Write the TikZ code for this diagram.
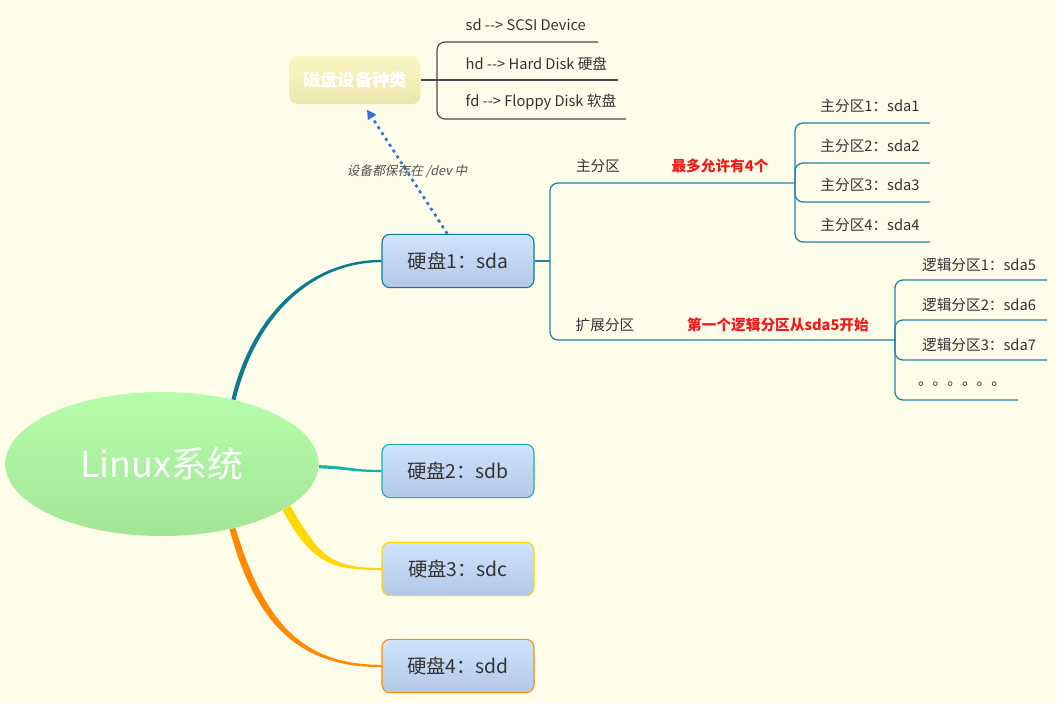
\documentclass[tikz,border=0pt]{standalone}
\usepackage{fontspec}
\setmainfont{Noto Sans CJK SC}
\newfontfamily\slantfont[FakeSlant=0.2]{Noto Sans CJK SC}
\usetikzlibrary{arrows.meta, positioning, shapes.geometric}
\definecolor{paper}{HTML}{FDFDE9}
\definecolor{ink}{HTML}{333333}
\definecolor{boxtop}{HTML}{CFE3FC}
\definecolor{boxbot}{HTML}{B3C8E6}
\definecolor{rootop}{HTML}{B6FDAB}
\definecolor{rootbot}{HTML}{A2E596}
\definecolor{kindtop}{HTML}{FBF6C2}
\definecolor{kindbot}{HTML}{EDE5AE}
\definecolor{sdaline}{HTML}{0E7A92}
\definecolor{sdbline}{HTML}{10B3A6}
\definecolor{sdcline}{HTML}{FFD800}
\definecolor{sddline}{HTML}{FF8A00}
\definecolor{branch}{HTML}{1E86A4}
\definecolor{grayline}{HTML}{4A4A4A}
\definecolor{hintred}{HTML}{F21B1B}
\definecolor{devblue}{HTML}{2F6FE0}

\begin{document}
\begin{tikzpicture}[x=0.75pt, y=-0.75pt,
    every node/.style={text=ink},
    root/.style={ellipse, top color=rootop, bottom color=rootbot, minimum width=235pt, minimum height=108pt, text=white, font=\fontsize{27}{30}\selectfont},
    disk/.style={draw, line width=0.8pt, rounded corners=6pt, top color=boxtop, bottom color=boxbot, minimum width=114pt, minimum height=40pt, font=\fontsize{14.5}{17}\selectfont},
    kindbox/.style={rounded corners=6pt, top color=kindtop, bottom color=kindbot, minimum width=98pt, minimum height=36pt, text=white, font=\fontsize{13}{15}\selectfont\bfseries},
    leaf/.style={font=\fontsize{11}{13}\selectfont},
    hint/.style={font=\fontsize{11}{13}\selectfont\bfseries, text=hintred},
    tree/.style={draw=branch, line width=1pt, rounded corners=6pt},
    kindtree/.style={draw=grayline, line width=0.9pt, rounded corners=6pt},
    devarrow/.style={devblue, line width=2pt, dash pattern=on 2.2pt off 3pt, -{Triangle[length=7pt,width=7pt]}},
    note/.style={font=\fontsize{9.5}{11}\selectfont\slantfont, text=ink!85}
]
    \fill[paper] (0,0) rectangle (1057,703);
    \useasboundingbox (0,0) rectangle (1057,703);

    % main nodes
    \node[root] (linux) at (162,464) {Linux系统};
    \node[disk, draw=sdaline] (sda) at (458,261) {硬盘1：sda};
    \node[disk, draw=sdbline] (sdb) at (458,471) {硬盘2：sdb};
    \node[disk, draw=sdcline] (sdc) at (458,569) {硬盘3：sdc};
    \node[disk, draw=sddline] (sdd) at (458,666) {硬盘4：sdd};
    \node[kindbox] (kind) at (355,80) {磁盘设备种类};

    % tapered branches from the root
    \fill[sdaline] (linux.41) .. controls +(22,-90) and +(-65,0) .. ([yshift=-0.9pt]sda.west)
        -- ([yshift=0.9pt]sda.west) .. controls +(-67,0) and +(22,-91) .. (linux.43.5) -- cycle;
    \fill[sdbline] ([yshift=1.2pt]linux.-1) .. controls +(30,1) and +(-30,0) .. ([yshift=0.8pt]sdb.west)
        -- ([yshift=-0.8pt]sdb.west) .. controls +(-30,0) and +(30,1) .. ([yshift=-1.2pt]linux.-1) -- cycle;
    \fill[sdcline] (linux.-18.7) .. controls +(30,52) and +(-50,0) .. ([yshift=0.8pt]sdc.west)
        -- ([yshift=-0.8pt]sdc.west) .. controls +(-51,0) and +(29,53) .. (linux.-21) -- cycle;
    \fill[sddline] (linux.-41.8) .. controls +(30,100) and +(-75,0) .. ([yshift=0.9pt]sdd.west)
        -- ([yshift=-0.9pt]sdd.west) .. controls +(-77,0) and +(27,101) .. (linux.-44.3) -- cycle;

    % device kinds
    \coordinate (kb) at (437,80);
    \coordinate (k1e) at (598,42);
    \coordinate (k2e) at (618,80);
    \coordinate (k3e) at (626,119);
    \draw[kindtree] (kind.east) -- (k2e);
    \draw[kindtree] (kb) |- (k1e);
    \draw[kindtree] (kb) |- (k3e);
    \node[leaf, anchor=west] (k1) at (461,25) {sd -{}-> SCSI Device};
    \node[leaf, anchor=west] (k2) at (461,64) {hd -{}-> Hard Disk 硬盘};
    \node[leaf, anchor=west] (k3) at (461,102) {fd -{}-> Floppy Disk 软盘};

    \draw[devarrow] ([xshift=-8pt]sda.north) -- ([xshift=9pt,yshift=-4pt]kind.south)
        node[midway, note] (devnote) {设备都保存在 /dev 中};

    % partitions of sda
    \coordinate (sb) at (550,261);
    \coordinate (prim) at (795,183);
    \coordinate (ext) at (895,340);
    \draw[tree] (sda.east) -- (sb);
    \draw[tree] (sb) |- (prim);
    \draw[tree] (sb) |- (ext);
    \node[leaf] (primlbl) at (598,166) {主分区};
    \node[hint] (primhint) at (720,166) {最多允许有4个};
    \node[leaf] (extlbl) at (605,325) {扩展分区};
    \node[hint] (exthint) at (778,325) {第一个逻辑分区从sda5开始};

    % primary partitions
    \foreach \i/\y in {1/123, 2/163, 3/202, 4/242} {
        \coordinate (p\i e) at (930,\y);
        \draw[tree] (prim) |- (p\i e);
        \node[leaf] (p\i) at (870,\y-17) {主分区\i：sda\i};
    }

    % logical partitions
    \foreach \i/\n/\y in {1/5/280, 2/6/320, 3/7/360} {
        \coordinate (l\i e) at (1047,\y);
        \draw[tree] (ext) |- (l\i e);
        \node[leaf] (l\i) at (979,\y-15) {逻辑分区\i：sda\n};
    }
    \coordinate (l4e) at (1018,400);
    \draw[tree] (ext) |- (l4e);
    \node[leaf] (l4) at (962,384) {。。。。。。};
\end{tikzpicture}
\end{document}
